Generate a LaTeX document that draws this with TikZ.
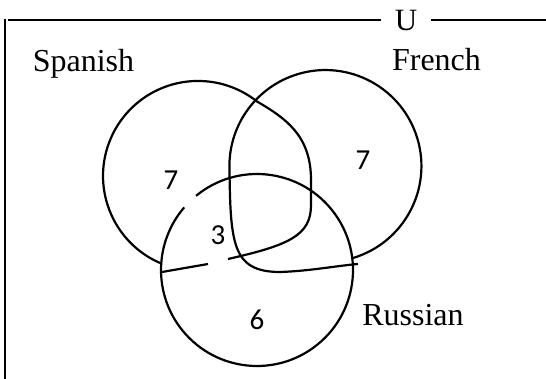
\documentclass[tikz,border=0pt]{standalone}
\usepackage{fontspec}
\setmainfont{Liberation Serif}
\newfontfamily\numfont{Carlito}
\begin{document}
\begin{tikzpicture}[x=1pt, y=-1pt, line width=2.2pt,
    setlabel/.style={font=\fontsize{32}{33}\selectfont, inner sep=0pt, anchor=base},
    setcount/.style={font=\numfont\fontsize{29}{30}\selectfont, inner sep=0pt}]

    % page size
    \useasboundingbox (0,0) rectangle (546,379);

    % universal set frame
    \node[font=\fontsize{31}{32}\selectfont, inner xsep=13pt, inner ysep=0pt] (U) at (406,20.5) {U};
    \coordinate (corner) at (5,19);
    \coordinate (bottom) at (5,379);
    \coordinate (topleft) at (8,20);
    \coordinate (topright) at (546,20);
    \draw (corner) -- (bottom);
    \draw (topleft) -- (U.west |- topleft);
    \draw (U.east |- topright) -- (topright);

    % set names
    \node[setlabel] (spanish) at (83.5,72) {Spanish};
    \node[setlabel] (french)  at (436.5,71) {French};
    \node[setlabel] (russian) at (413,325) {Russian};

    % Spanish: circle bent into the French one
    \draw (160,263) arc[start angle=113.6, end angle=308.3, radius=95]
          .. controls (285,118) and (311,135) .. (311,180) -- (311,205)
          .. controls (311,235) and (290,245) .. (228,259);
    \draw (208,264) -- (162,272);

    % French: circle bent below the Russian one
    \draw (353,258) arc[start angle=73.3, end angle=-180, radius=96]
          .. controls (230,200) and (230,230) .. (237,248)
          .. controls (243,264) and (255,272) .. (280,272)
          .. controls (310,271) and (335,266) .. (358,264);

    % Russian: circle with a small gap
    \draw (257,270) ++(230.6:96) arc[start angle=230.6, end angle=580.7, radius=96];

    % counts
    \node[setcount] (onlyS)  at (171,180) {7};
    \node[setcount] (all)    at (218,235) {3};
    \node[setcount] (onlyF)  at (363,160) {7};
    \node[setcount] (onlyR)  at (257,320) {6};

\end{tikzpicture}
\end{document}
